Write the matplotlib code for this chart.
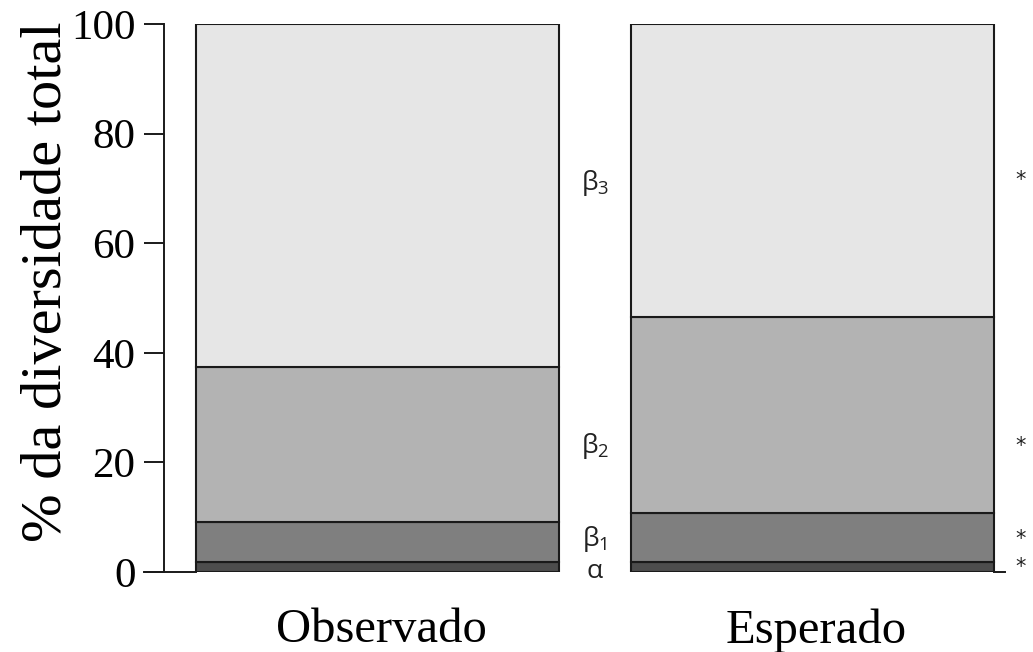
import numpy as np
import matplotlib.pyplot as plt

# Partição aditiva da diversidade (% da diversidade total)
grupos = ['Observado', 'Esperado']
componentes = [r'$\alpha$', r'$\beta_1$', r'$\beta_2$', r'$\beta_3$']
alfa = [1.8, 1.8]
beta1 = [7.3, 9.0]
beta2 = [28.3, 35.7]
beta3 = [62.6, 53.5]
cores = ['#4d4d4d', '#7f7f7f', '#b3b3b3', '#e6e6e6']
signif = ['*', '*', '*', '*']

plt.rcParams['font.family'] = ['Liberation Serif', 'DejaVu Serif']
plt.rcParams['mathtext.fontset'] = 'custom'
plt.rcParams['mathtext.rm'] = 'Open Sans'
plt.rcParams['mathtext.it'] = 'Open Sans'

fig = plt.figure(figsize=(10.33, 6.52), dpi=100)
ax = fig.add_axes([164 / 1033, 80 / 652, 862 / 1033, 548 / 652])

# barras empilhadas no estilo barplot do R (largura 1, espaço 0.2)
x = np.array([0.7, 1.9])
largura = 1.0
base = np.zeros(2)
for vals, cor in zip([alfa, beta1, beta2, beta3], cores):
    ax.bar(x, vals, largura, bottom=base, color=cor, edgecolor='#1a1a1a',
           linewidth=1.5, zorder=3)
    base += np.array(vals)

ax.set_xlim(0.112, 2.488)
ax.set_ylim(0, 100)
for s in ['top', 'right', 'bottom']:
    ax.spines[s].set_visible(False)
ax.spines['left'].set_linewidth(1.4)
ax.spines['left'].set_color('#1a1a1a')
ax.set_yticks([0, 20, 40, 60, 80, 100])
ax.tick_params(axis='y', direction='out', length=14.5, width=1.4,
               color='#1a1a1a', labelsize=31, pad=6)
ax.set_xticks([])
ax.set_ylabel('% da diversidade total', fontsize=42)
ax.yaxis.set_label_coords(-0.106, 0.53)

# linha de base em y = 0 fora das barras
ax.plot([0.112 - 0.055, x[0] - largura / 2], [0, 0], color='#1a1a1a',
        lw=1.4, clip_on=False, zorder=2)
ax.plot([x[1] + largura / 2, 2.43], [0, 0], color='#1a1a1a',
        lw=1.4, clip_on=False, zorder=2)

# nomes dos grupos
for xi, g in zip(x, grupos):
    ax.text(xi + 0.01, -6.6, g, ha='center', va='top', fontsize=35)

# rótulos dos componentes entre as barras
meio = (x[0] + x[1]) / 2
pos_rot = [0, 6, 23, 71]
for nome, yy in zip(componentes, pos_rot):
    ax.text(meio, yy, nome, ha='center', va='center', fontsize=19,
            color='#222222', clip_on=False)
pos_ast = [1, 6, 23, 71.5]
for s, yy in zip(signif, pos_ast):
    ax.text(2.472, yy, s, ha='center', va='center', fontsize=15,
            family=['DejaVu Sans'], color='#222222', clip_on=False)

fig.savefig('out.png', dpi=100)
